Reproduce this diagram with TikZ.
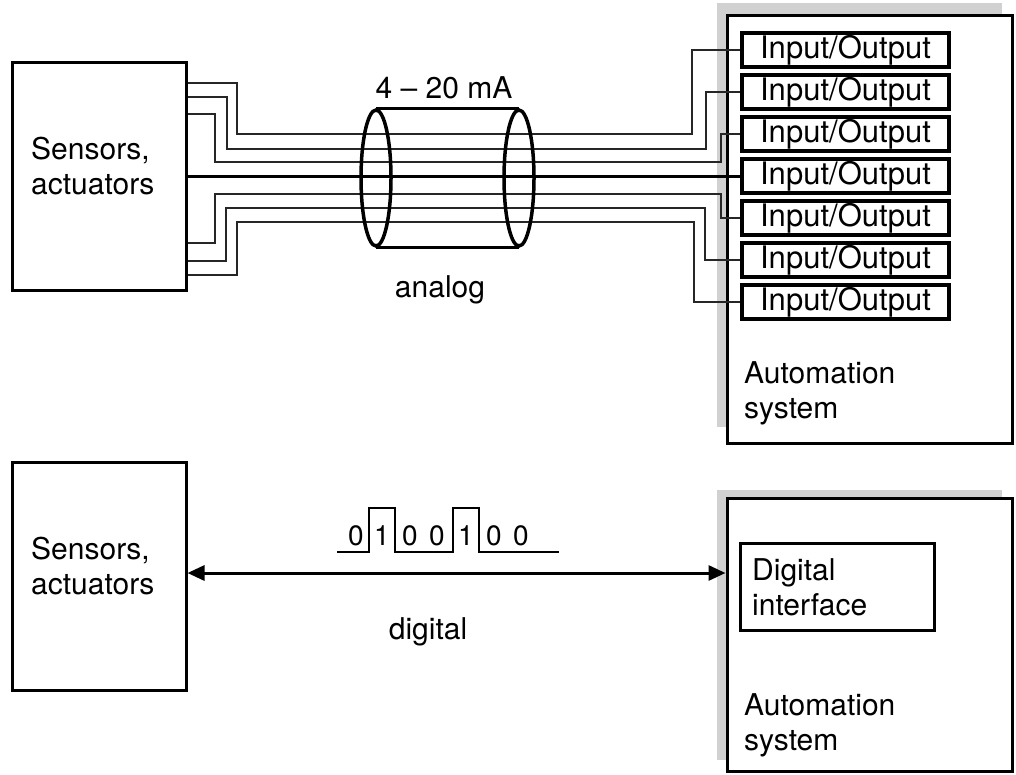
\documentclass[tikz,border=0pt]{standalone}
\usepackage{fontspec}
\setmainfont{TeX Gyre Heros}
\usepackage{tikz}
\usetikzlibrary{shapes.geometric,arrows.meta,backgrounds,positioning}
\definecolor{shadowgray}{gray}{0.82}
\tikzstyle{sbox}=[rectangle, draw=black, line width=3pt, fill=white, inner sep=0pt]
\tikzstyle{sysbox}=[rectangle, draw=black, line width=3pt, fill=white, inner sep=0pt]
\tikzstyle{iobox}=[rectangle, draw=black, line width=3.5pt, fill=white, minimum width=207pt, minimum height=34pt, inner sep=0pt, font=\fontsize{31}{35}\selectfont]
\tikzstyle{txt}=[align=left, inner sep=0pt, font=\fontsize{30}{35}\selectfont]
\tikzstyle{bit}=[inner sep=0pt, anchor=base, font=\fontsize{28}{30}\selectfont]
\tikzstyle{wire}=[draw=black!85, line width=1.4pt]
\tikzstyle{mainwire}=[draw=black, line width=3pt]
\tikzstyle{cabend}=[ellipse, draw=black, line width=3.5pt, minimum width=30pt, minimum height=136pt, inner sep=0pt]
\tikzstyle{cable}=[draw=black, line width=3pt]
\tikzstyle{signal}=[draw=black, line width=2.5pt]
\tikzstyle{dblarrow}=[draw=black, line width=3pt, {Triangle[length=17pt,width=15pt]}-{Triangle[length=17pt,width=15pt]}]

\begin{document}
\begin{tikzpicture}[x=1pt,y=-1pt]
\useasboundingbox (0,0) rectangle (1016,774);
%Boxes analog
\node[sbox, minimum width=174pt, minimum height=228pt] (sens1) at (99,176){};
\node[txt, anchor=west] (sens1txt) at (31,166){Sensors,\\actuators};
\node[sysbox, minimum width=285pt, minimum height=428pt] (sys1) at (869.5,229){};
\node[txt, anchor=west] (sys1txt) at (744,393){Automation\\system};
\node[iobox] (io1) at (845.5,50){Input/Output};
\node[iobox] (io2) at (845.5,92){Input/Output};
\node[iobox] (io3) at (845.5,134){Input/Output};
\node[iobox] (io4) at (845.5,176){Input/Output};
\node[iobox] (io5) at (845.5,218){Input/Output};
\node[iobox] (io6) at (845.5,260){Input/Output};
\node[iobox] (io7) at (845.5,302){Input/Output};

%Wires
\draw[wire] (sens1.east |- 0,83) -| (237,134) -- (692,134) |- (io1.west);
\draw[wire] (sens1.east |- 0,97) -| (227,149) -- (706,149) |- (io2.west);
\draw[wire] (sens1.east |- 0,114) -| (215,162) -- (721,162) |- (io3.west);
\draw[mainwire] (sens1.east |- io4.west) -- (io4.west);
\draw[wire] (sens1.east |- 0,243) -| (215,194) -- (721,194) |- (io5.west);
\draw[wire] (sens1.east |- 0,261) -| (226,208) -- (705,208) |- (io6.west);
\draw[wire] (sens1.east |- 0,275) -| (237,222) -- (694,222) |- (io7.west);

%Cable
\node[cabend] (cabl) at (376,178){};
\node[cabend] (cabr) at (519,178){};
\draw[cable] (cabl.north) -- (cabr.north);
\draw[cable] (cabl.south) -- (cabr.south);
\node[txt] (current) at (444,88){4 – 20 mA};
\node[txt] (analog) at (440,290){analog};

%Boxes digital
\node[sbox, minimum width=174pt, minimum height=228pt] (sens2) at (99,576){};
\node[txt, anchor=west] (sens2txt) at (31,566){Sensors,\\actuators};
\node[sysbox, minimum width=285pt, minimum height=273pt] (sys2) at (869.5,634.5){};
\node[txt, anchor=west] (sys2txt) at (744,725){Automation\\system};
\node[sbox, minimum width=194pt, minimum height=87pt] (digif) at (837,586.5){};
\node[txt, anchor=west] (digiftxt) at (752,587){Digital\\interface};

%Bus
\draw[dblarrow] (sens2.east |- 0,573) -- (sys2.west |- 0,573);
\node[txt] (digital) at (428,632){digital};

%Bit pattern
\draw[signal] (337,552) -- (369,552) -- (369,508) -- (395,508) -- (395,552) -- (453,552) -- (453,508) -- (479,508) -- (479,552) -- (559,552);
\node[bit] (b1) at (356,545){0};
\node[bit] (b2) at (382,545){1};
\node[bit] (b3) at (410,545){0};
\node[bit] (b4) at (437,545){0};
\node[bit] (b5) at (466,545){1};
\node[bit] (b6) at (494,545){0};
\node[bit] (b7) at (521,545){0};

%background
\begin{scope}[on background layer]
\fill[shadowgray](717,3) rectangle(1002,427);
\end{scope}

\begin{scope}[on background layer]
\fill[shadowgray](717,490) rectangle(1002,760);
\end{scope}

\end{tikzpicture}
\end{document}
